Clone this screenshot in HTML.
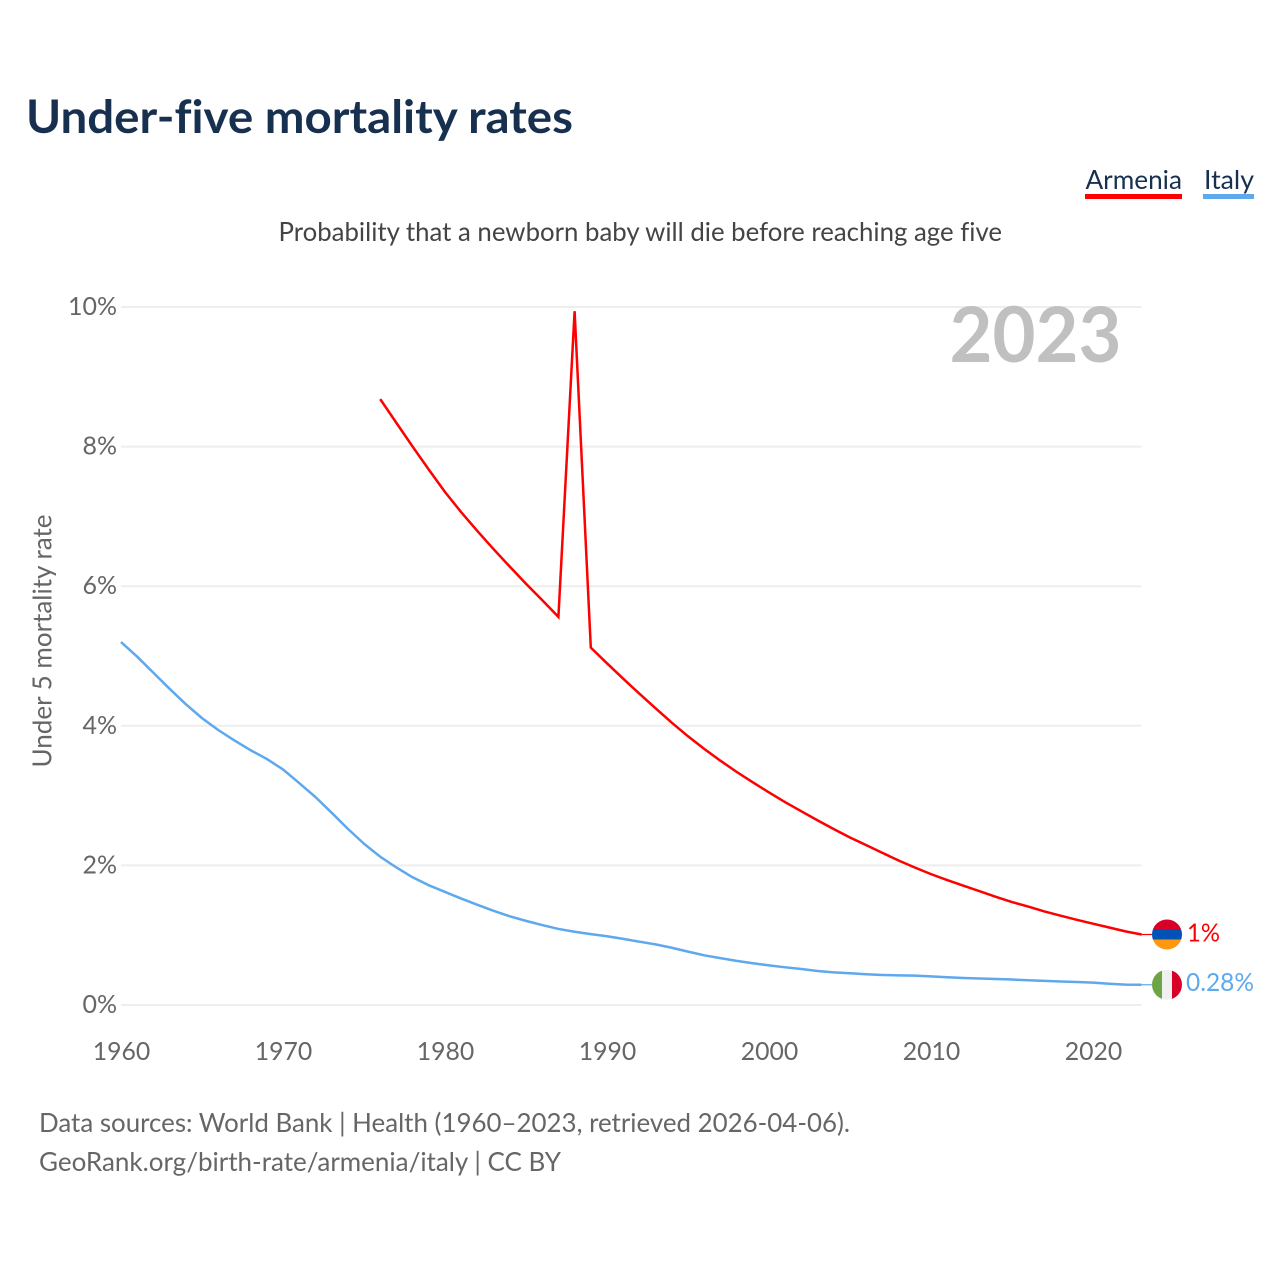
<!DOCTYPE html>
<html lang="en">
<head>
<meta charset="utf-8">
<title>Under-five mortality rates</title>
<style>
html,body{margin:0;padding:0;background:#fff;}
svg{display:block;font-family:"Lato","Carlito","Liberation Sans",sans-serif;font-variant-ligatures:none;}
</style>
</head>
<body>
<svg id="chart" xmlns="http://www.w3.org/2000/svg" width="1280" height="1280" viewBox="0 0 1280 1280">
  <rect width="1280" height="1280" fill="#ffffff"/>
  <text x="26" y="133" font-size="46" font-weight="700" fill="#17304f" textLength="547" lengthAdjust="spacingAndGlyphs">Under-five mortality rates</text>

  <g>
    <text x="1085.5" y="189" font-size="26" fill="#17304f" textLength="96.5" lengthAdjust="spacingAndGlyphs">Armenia</text>
    <rect x="1085" y="194" width="97" height="5" fill="#ff0000"/>
  </g>
  <g>
    <text x="1204" y="189" font-size="26" fill="#17304f" textLength="50" lengthAdjust="spacingAndGlyphs">Italy</text>
    <rect x="1203" y="194" width="51" height="5" fill="#5ea8ee"/>
  </g>

  <text x="278.5" y="241" font-size="26" fill="#444444" textLength="723.5" lengthAdjust="spacingAndGlyphs">Probability that a newborn baby will die before reaching age five</text>
  <text transform="translate(51.5,767.5) rotate(-90)" x="0" y="0" font-size="26" fill="#666666" textLength="253" lengthAdjust="spacingAndGlyphs">Under 5 mortality rate</text>

  <g id="grid"></g>
  <g id="y-labels"></g>
  <g id="x-labels"></g>

  <text x="949.5" y="362" font-size="77" font-weight="700" fill="#c0c0c0" textLength="172" lengthAdjust="spacingAndGlyphs">2023</text>

  <g id="series"></g>
  <g id="end-markers"></g>

  <text x="39" y="1132" font-size="26" fill="#666666" textLength="811" lengthAdjust="spacingAndGlyphs">Data sources: World Bank | Health (1960–2023, retrieved 2026-04-06).</text>
  <text x="39" y="1171" font-size="26" fill="#666666" textLength="522" lengthAdjust="spacingAndGlyphs">GeoRank.org/birth-rate/armenia/italy | CC BY</text>
</svg>
<script>
const armeniaYears = [1976,1977,1978,1979,1980,1981,1982,1983,1984,1985,1986,1987,1988,1989,1990,1991,1992,1993,1994,1995,1996,1997,1998,1999,2000,2001,2002,2003,2004,2005,2006,2007,2008,2009,2010,2011,2012,2013,2014,2015,2016,2017,2018,2019,2020,2021,2022,2023];
const armeniaValues = [8.68,8.34,8.0,7.67,7.35,7.06,6.79,6.53,6.28,6.035,5.80,5.56,9.94,5.12,4.895,4.675,4.46,4.25,4.045,3.85,3.67,3.50,3.34,3.19,3.045,2.905,2.775,2.645,2.52,2.40,2.29,2.18,2.07,1.97,1.875,1.79,1.71,1.63,1.55,1.475,1.41,1.34,1.28,1.22,1.165,1.11,1.055,1.01];
const italyYears = [1960,1961,1962,1963,1964,1965,1966,1967,1968,1969,1970,1971,1972,1973,1974,1975,1976,1977,1978,1979,1980,1981,1982,1983,1984,1985,1986,1987,1988,1989,1990,1991,1992,1993,1994,1995,1996,1997,1998,1999,2000,2001,2002,2003,2004,2005,2006,2007,2008,2009,2010,2011,2012,2013,2014,2015,2016,2017,2018,2019,2020,2021,2022,2023];
const italyValues = [5.2,4.99,4.76,4.53,4.31,4.11,3.94,3.79,3.65,3.525,3.375,3.18,2.98,2.755,2.525,2.31,2.125,1.97,1.83,1.715,1.62,1.525,1.435,1.35,1.27,1.205,1.145,1.09,1.05,1.015,0.985,0.947,0.907,0.868,0.82,0.765,0.712,0.672,0.632,0.598,0.568,0.54,0.515,0.487,0.468,0.455,0.44,0.43,0.425,0.42,0.41,0.397,0.387,0.38,0.372,0.365,0.355,0.345,0.337,0.33,0.32,0.305,0.292,0.29];
const yTicks = [0,2,4,6,8,10];
const yTickLabels = ["0%","2%","4%","6%","8%","10%"];
const xTicks = [1960,1970,1980,1990,2000,2010,2020];
const xTickLabels = ["1960","1970","1980","1990","2000","2010","2020"];
const armeniaEndLabel = "1%";
const italyEndLabel = "0.28%";

const NS = "http://www.w3.org/2000/svg";
const plotLeft = 121, plotRight = 1141.6, plotBottom = 1005, plotTop = 307;
function xScale(year){ return plotLeft + (year - 1960) * (plotRight - plotLeft) / (2023 - 1960); }
function yScale(v){ return plotBottom - v * (plotBottom - plotTop) / 10; }
function pathFor(years, values){
  return years.map(function(yr, i){ return (i ? "L" : "M") + xScale(yr).toFixed(2) + " " + yScale(values[i]).toFixed(2); }).join(" ");
}
function make(tag, attrs){
  const el = document.createElementNS(NS, tag);
  for (const k in attrs) el.setAttribute(k, attrs[k]);
  return el;
}

const grid = document.getElementById("grid");
const yLabels = document.getElementById("y-labels");
yTicks.forEach(function(t, i){
  const line = make("line", {x1: plotLeft, x2: plotRight, y1: yScale(t), y2: yScale(t), stroke: "#eeeeee", "stroke-width": 2});
  
  
  grid.appendChild(line);
  const label = make("text", {x: 117, y: yScale(t) + 8, "text-anchor": "end", "font-size": 25, fill: "#666666"});
  
  
  label.textContent = yTickLabels[i];
  yLabels.appendChild(label);
});

const xLabels = document.getElementById("x-labels");
xTicks.forEach(function(t, i){
  const label = make("text", {x: xScale(t) + 0.5, y: 1060, "text-anchor": "middle", "font-size": 25, fill: "#666666", textLength: 57.5, lengthAdjust: "spacingAndGlyphs"});
  
  
  label.textContent = xTickLabels[i];
  xLabels.appendChild(label);
});

const series = document.getElementById("series");
const armeniaLine = make("path", {d: pathFor(armeniaYears, armeniaValues), fill: "none", stroke: "#ff0000", "stroke-width": 2.5, "stroke-linejoin": "miter", "stroke-miterlimit": 4});


series.appendChild(armeniaLine);
const italyLine = make("path", {d: pathFor(italyYears, italyValues), fill: "none", stroke: "#5ea8ee", "stroke-width": 2.5, "stroke-linejoin": "round"});


series.appendChild(italyLine);

const markers = document.getElementById("end-markers");
const flagX = 1167, flagR = 15;
const defs = make("defs", {});
markers.appendChild(defs);

// Armenia end marker
const armY = yScale(armeniaValues[armeniaValues.length - 1]);
const armClip = make("clipPath", {id: "clip-armenia"});
armClip.appendChild(make("circle", {cx: flagX, cy: armY, r: flagR}));
defs.appendChild(armClip);
const armStub = make("line", {x1: plotRight, x2: flagX - flagR, y1: armY, y2: armY, stroke: "#ff0000", "stroke-width": 1.2});


markers.appendChild(armStub);
const armFlag = make("g", {"clip-path": "url(#clip-armenia)"});


armFlag.appendChild(make("rect", {x: flagX - flagR, y: armY - flagR, width: 30, height: 10, fill: "#d80027"}));
armFlag.appendChild(make("rect", {x: flagX - flagR, y: armY - 5, width: 30, height: 10, fill: "#0052b4"}));
armFlag.appendChild(make("rect", {x: flagX - flagR, y: armY + 5, width: 30, height: 10, fill: "#ff9811"}));
markers.appendChild(armFlag);
const armLabel = make("text", {x: 1187, y: armY + 7, "font-size": 25, fill: "#ff0000", textLength: 33, lengthAdjust: "spacingAndGlyphs"});


armLabel.textContent = armeniaEndLabel;
markers.appendChild(armLabel);

// Italy end marker
const itaY = yScale(italyValues[italyValues.length - 1]);
const itaClip = make("clipPath", {id: "clip-italy"});
itaClip.appendChild(make("circle", {cx: flagX, cy: itaY, r: flagR}));
defs.appendChild(itaClip);
const itaStub = make("line", {x1: plotRight, x2: flagX - flagR, y1: itaY, y2: itaY, stroke: "#5ea8ee", "stroke-width": 1.2});


markers.appendChild(itaStub);
const itaFlag = make("g", {"clip-path": "url(#clip-italy)"});


itaFlag.appendChild(make("rect", {x: flagX - flagR, y: itaY - flagR, width: 10, height: 30, fill: "#6da544"}));
itaFlag.appendChild(make("rect", {x: flagX - 5, y: itaY - flagR, width: 10, height: 30, fill: "#f0f0f0"}));
itaFlag.appendChild(make("rect", {x: flagX + 5, y: itaY - flagR, width: 10, height: 30, fill: "#d80027"}));
markers.appendChild(itaFlag);
const itaLabel = make("text", {x: 1186, y: itaY + 6, "font-size": 25, fill: "#5ea8ee", textLength: 68, lengthAdjust: "spacingAndGlyphs"});


itaLabel.textContent = italyEndLabel;
markers.appendChild(itaLabel);
</script>
</body>
</html>
